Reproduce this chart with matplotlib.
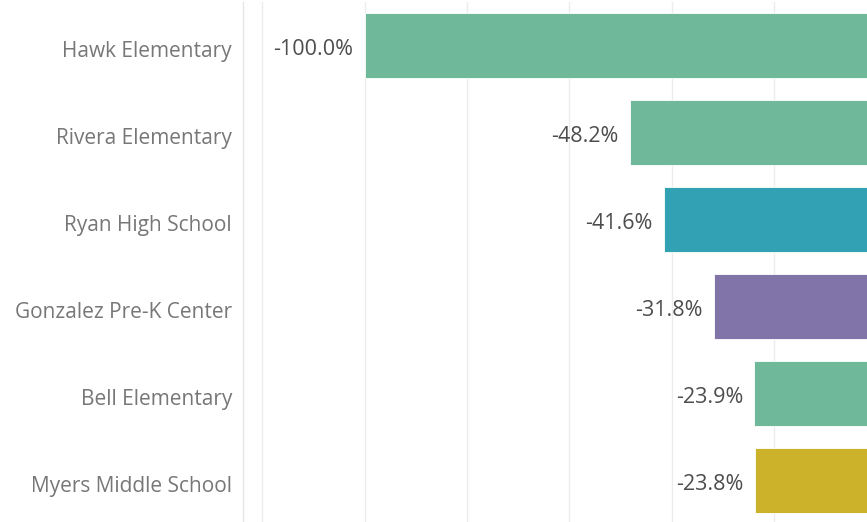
import matplotlib.pyplot as plt
import numpy as np

schools = ['Hawk Elementary', 'Rivera Elementary', 'Ryan High School',
           'Gonzalez Pre-K Center', 'Bell Elementary', 'Myers Middle School']
change_pct = [-100.0, -48.2, -41.6, -31.8, -23.9, -23.8]
bar_colors = ['#6fb899', '#6fb899', '#31a1b3', '#8074a8', '#6fb899', '#ccb22b']

plt.rcParams['font.family'] = ['Open Sans', 'DejaVu Sans']

fig = plt.figure(figsize=(8.67, 5.22), dpi=100)
ax = fig.add_axes([243 / 867, -2 / 522, 1 - 243 / 867, 1.0])

y = np.arange(len(schools))
ax.barh(y, change_pct, height=0.736, color=bar_colors, edgecolor='white', linewidth=0.6, zorder=3)

# value labels just left of each bar
for yi, v in zip(y, change_pct):
    ax.annotate(f'{v:.1f}%', xy=(v, yi), xytext=(-8, -3), textcoords='offset points',
                ha='right', va='center', fontsize=15.5, color='#4d4d4d', zorder=4)

# school names, drawn as text so they can sit a bit lower like the original
for yi, name in zip(y, schools):
    ax.annotate(name, xy=(0, yi), xycoords=('axes fraction', 'data'),
                xytext=(-8, -4), textcoords='offset points',
                ha='right', va='center', fontsize=15, color='#777777',
                annotation_clip=False)

ax.set_xlim(-123.75, -1.9)
ax.set_ylim(len(schools) - 0.5, -0.5)
ax.set_xticks([-120, -100, -80, -60, -40, -20])
ax.set_xticklabels([])
ax.tick_params(axis='x', length=0)
ax.grid(axis='x', color='#ececec', linewidth=1, zorder=0)

ax.set_yticks([])

for side in ['top', 'right', 'bottom']:
    ax.spines[side].set_visible(False)
ax.spines['left'].set_color('#e6e6e6')
ax.spines['left'].set_linewidth(1)

fig.savefig('out.png', dpi=100)
